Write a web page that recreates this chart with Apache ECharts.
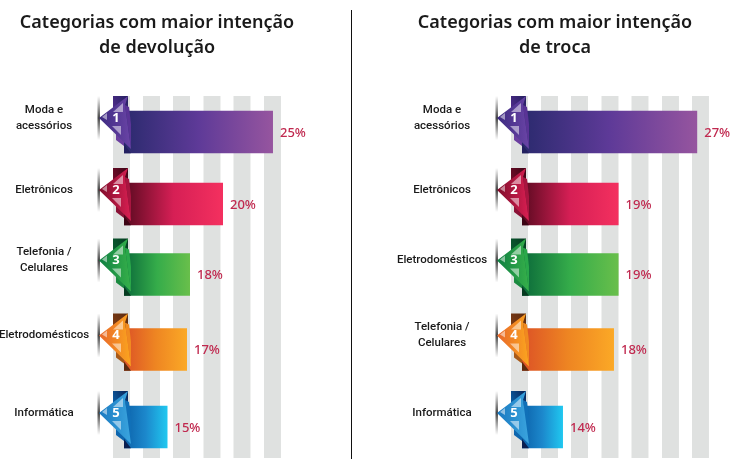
<!DOCTYPE html>
<html>
<head>
<meta charset="utf-8">
<style>html,body{margin:0;padding:0;background:#fff}#c{width:740px;height:476px}</style>
<script src="https://cdn.jsdelivr.net/npm/echarts@6/dist/echarts.min.js"></script>
</head>
<body>
<div id="c"></div>
<script>
// Printed values
var devolucaoCategories = ['Moda e\nacessórios', 'Eletrônicos', 'Telefonia /\nCelulares', 'Eletrodomésticos', 'Informática'];
var devolucaoPercent = [25, 20, 18, 17, 15];
var trocaCategories = ['Moda e\nacessórios', 'Eletrônicos', 'Eletrodomésticos', 'Telefonia /\nCelulares', 'Informática'];
var trocaPercent = [27, 19, 19, 18, 14];
// The source's bars are not proportional to their printed percentages,
// so the drawn lengths are read from the picture separately.
var devolucaoBarLength = [24.83, 16.5, 11, 10.5, 7.25];
var trocaBarLength = [29.2, 16.1, 16.1, 15.33, 6.83];
var rowCentres = [36, 108, 178.5, 253.5, 331];
var devolucaoStripes = [-1.83, 3.17, 8.17, 13.25, 18.25, 23.33];
var trocaStripes = [-1.83, 3.17, 8.17, 13.25, 18.25, 23.33, 28.33];
var titles = ['Categorias com maior intenção\nde devolução', 'Categorias com maior intenção\nde troca'];

var FONT = '"Noto Sans", sans-serif';
var LABELFONT = 'Roboto, sans-serif';
var palette = [
  {bar: ['#2b2a6e', '#5e3a98', '#96559f'], main: ['#3c2a80', '#6a44a6'], fold: '#5a3496', tab: '#4b2a86', dark: '#23205f', lo: '#6b3fa0'},
  {bar: ['#5a0a20', '#d61f55', '#f4305f'], main: ['#7f0c2a', '#d81f52'], fold: '#a81540', tab: '#6d0c28', dark: '#3c0414', lo: '#8a1236'},
  {bar: ['#0b6a3a', '#35ac4a', '#69bf4b'], main: ['#0f7f42', '#36b04a'], fold: '#2aa84a', tab: '#0a5a30', dark: '#053a20', lo: '#1b8a40'},
  {bar: ['#dc5226', '#ee8522', '#fba926'], main: ['#e8662a', '#fba51f'], fold: '#f08a20', tab: '#7a3a14', dark: '#5a2a10', lo: '#a85a18'},
  {bar: ['#0c62aa', '#1c88cc', '#20c8f0'], main: ['#1878c0', '#3aa4de'], fold: '#1070b8', tab: '#0a5aa0', dark: '#0a1f50', lo: '#0e66ae'}
];

function lin(x0, y0, x1, y1, cols) {
  return new echarts.graphic.LinearGradient(x0, y0, x1, y1, cols.map(function (c, i) {
    return {offset: cols.length === 1 ? 0 : i / (cols.length - 1), color: c};
  }));
}

function poly(cx, cy, pts, style) {
  return {type: 'polygon', shape: {points: pts.map(function (p) { return [cx + p[0], cy + p[1]]; })}, style: style};
}

function stripeSeries(idx, stripes) {
  return {
    type: 'custom', xAxisIndex: idx, yAxisIndex: idx, silent: true, z: 1,
    data: stripes.map(function (s) { return [s, 0]; }),
    encode: {x: 0, y: 1},
    renderItem: function (params, api) {
      var a = api.coord([api.value(0), 0]);
      var b = api.coord([api.value(0) + 2.83, 362]);
      return {type: 'rect', shape: {x: a[0], y: a[1], width: b[0] - a[0], height: b[1] - a[1]}, style: {fill: '#dfe1e0'}};
    }
  };
}

function barSeries(idx, lengths, percents, cats) {
  return {
    type: 'custom', xAxisIndex: idx, yAxisIndex: idx, silent: true, z: 2,
    data: lengths.map(function (l, i) { return [l, rowCentres[i], percents[i]]; }),
    encode: {x: 0, y: 1},
    renderItem: function (params, api) {
      var i = params.dataIndex, p = palette[i];
      var start = api.coord([0, api.value(1)]);
      var end = api.coord([api.value(0), api.value(1)]);
      var x = start[0], cy = start[1];
      var kids = [];
      // tip shadow
      kids.push({type: 'rect', shape: {x: x - 26.5, y: cy - 36, width: 2.5, height: 44},
        style: {fill: lin(0, 0, 0, 1, ['rgba(60,60,60,0)', 'rgba(50,50,50,0.9)', 'rgba(60,60,60,0)'])}});
      // back tabs
      kids.push(poly(x, cy, [[-11, -36], [4, -36], [4, -8], [-11, -8]], {fill: lin(1, 0, 0, 0.3, [p.dark, p.tab])}));
      kids.push(poly(x, cy, [[-8, 0], [-8, 8], [0, 14], [7, 21], [7, 0]], {fill: p.lo}));
      // bar
      kids.push({type: 'rect', shape: {x: x, y: cy - 21.3, width: end[0] - x, height: 42.6},
        style: {fill: lin(0, 0, 1, 0, p.bar)}});
      // bottom fold
      kids.push(poly(x, cy, [[0, 12], [7, 21.3], [0, 21.3]], {fill: p.dark}));
      // right strip
      kids.push(poly(x, cy, [[1, -27], [5, -25], [7, -8], [7, 17]], {fill: p.fold}));
      // main triangle
      kids.push(poly(x, cy, [[-25, -14], [4, -36], [1, -27], [7, 17]], {fill: lin(0, 0, 1, 0, p.main)}));
      // light facets
      var light = {fill: 'rgba(255,255,255,0.5)'};
      kids.push(poly(x, cy, [[-1, -29], [-11, -20], [-1, -20]], light));
      kids.push(poly(x, cy, [[-12, -6], [-3, -6], [-3, 3]], light));
      kids.push(poly(x, cy, [[-22, -15], [-17, -19], [-17, -12]], light));
      // rank number
      kids.push({type: 'text', style: {x: x - 8, y: cy - 14, text: String(i + 1), fill: '#fff',
        font: '700 13px ' + FONT, align: 'center', verticalAlign: 'middle'}});
      // value label
      kids.push({type: 'text', style: {x: end[0] + 7, y: cy + 1, text: api.value(2) + '%', fill: '#c0294f',
        font: '500 13px ' + FONT, align: 'left', verticalAlign: 'middle'}});
      // category label
      kids.push({type: 'text', style: {x: x - 80, y: cy - 14, text: cats[i], fill: '#1a1a1a',
        font: '500 11.5px ' + LABELFONT, lineHeight: 16, align: 'center', verticalAlign: 'middle'}});
      return {type: 'group', children: kids};
    }
  };
}

function xAxis(idx, max) {
  return {type: 'value', gridIndex: idx, min: -2, max: max, show: false};
}
function yAxis(idx) {
  return {type: 'value', gridIndex: idx, min: 0, max: 362, inverse: true, show: false};
}

var titleStyle = {fontFamily: FONT, fontSize: 18, fontWeight: 600, color: '#1a1a1a', lineHeight: 25};
var chart = echarts.init(document.getElementById('c'), null, {renderer: 'canvas'});
chart.setOption({
  animation: false,
  backgroundColor: '#fff',
  title: [
    {text: titles[0], left: 152, top: 5, textAlign: 'center', textStyle: titleStyle},
    {text: titles[1], left: 550, top: 5, textAlign: 'center', textStyle: titleStyle}
  ],
  grid: [
    {left: 112, top: 96, width: 228, height: 362, outerBounds: {left: 0, right: 0, top: 0, bottom: 0}},
    {left: 510, top: 96, width: 228, height: 362, outerBounds: {left: 0, right: 0, top: 0, bottom: 0}}
  ],
  xAxis: [xAxis(0, 36), xAxis(1, 36)],
  yAxis: [yAxis(0), yAxis(1)],
  series: [
    stripeSeries(0, devolucaoStripes),
    stripeSeries(1, trocaStripes),
    barSeries(0, devolucaoBarLength, devolucaoPercent, devolucaoCategories),
    barSeries(1, trocaBarLength, trocaPercent, trocaCategories)
  ],
  graphic: [{type: 'line', shape: {x1: 351.5, y1: 10, x2: 351.5, y2: 459}, style: {stroke: '#111', lineWidth: 1}}]
});
</script>
</body>
</html>
